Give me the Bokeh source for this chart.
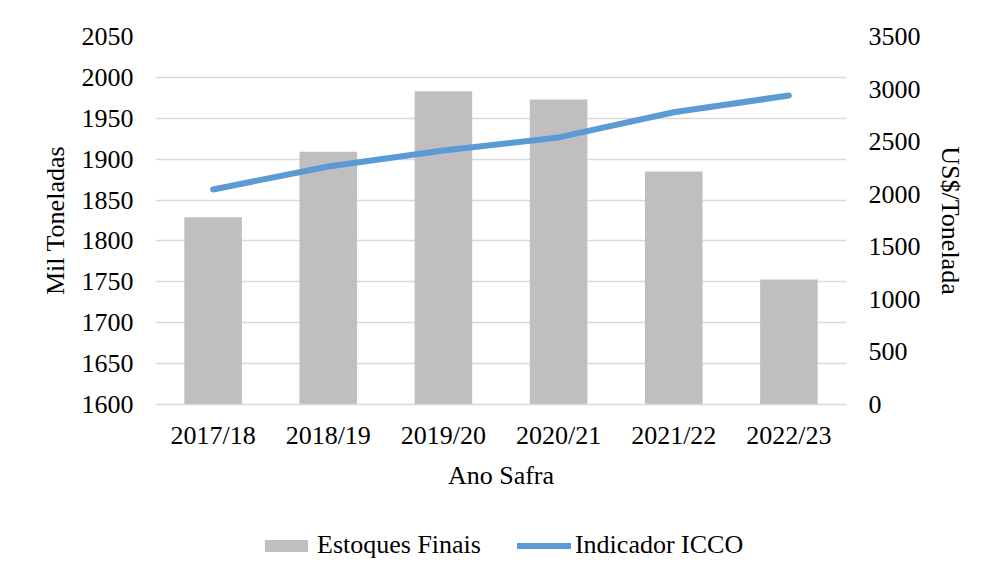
from bokeh.plotting import figure
from bokeh.models import (FactorRange, Range1d, LinearAxis, SingleIntervalTicker,
                          Legend, LegendItem, ColumnDataSource)
from bokeh.layouts import column
from bokeh.embed import file_html
from bokeh.resources import INLINE

categories = ["2017/18", "2018/19", "2019/20", "2020/21", "2021/22", "2022/23"]
estoques_finais = [1829, 1909, 1983, 1973, 1885, 1753]
indicador_icco = [2045, 2264, 2415, 2540, 2780, 2939]
series_names = ["Estoques Finais", "Indicador ICCO"]

FONT = "Liberation Serif"
FS = "26px"
BAR_COLOR = "#BFBFBF"
LINE_COLOR = "#5B9BD5"

src = ColumnDataSource(dict(cat=categories, est=estoques_finais, icco=indicador_icco))

p = figure(width=967, height=505, x_range=FactorRange(factors=categories),
           y_range=Range1d(1600, 2050), output_backend="svg", toolbar_location=None,
           min_border_left=155, min_border_right=120, min_border_top=36,
           min_border_bottom=101)
p.extra_y_ranges = {"price": Range1d(0, 3500)}
p.outline_line_color = None
p.background_fill_color = "white"
p.border_fill_color = "white"

bars = p.vbar(x="cat", top="est", bottom=1600, width=0.5, source=src,
              fill_color=BAR_COLOR, line_color=None)
line = p.line(x="cat", y="icco", source=src, y_range_name="price",
              line_color=LINE_COLOR, line_width=6, line_cap="round", line_join="round")

# left axis
la = p.yaxis[0]
la.ticker = SingleIntervalTicker(interval=50, num_minor_ticks=0)
la.axis_label = "Mil Toneladas"

ra = LinearAxis(y_range_name="price", ticker=SingleIntervalTicker(interval=500, num_minor_ticks=0),
                axis_label="US$/Tonelada")
p.add_layout(ra, "right")

for ax in [la, ra]:
    ax.axis_line_color = None
    ax.major_tick_line_color = None
    ax.minor_tick_line_color = None
    ax.major_tick_out = 0
    ax.major_tick_in = 0
    ax.major_label_standoff = 22
la.axis_label_standoff = 9
ra.axis_label_standoff = 12

xa = p.xaxis[0]
xa.axis_label = "Ano Safra"
xa.axis_line_color = "#D9D9D9"
xa.axis_line_width = 1.5
xa.major_tick_line_color = None
xa.minor_tick_line_color = None
xa.major_tick_out = 0
xa.major_tick_in = 0
xa.major_label_standoff = 16
xa.axis_label_standoff = 8

for ax in [la, ra, xa]:
    ax.major_label_text_font = FONT
    ax.major_label_text_font_size = FS
    ax.major_label_text_color = "black"
    ax.axis_label_text_font = FONT
    ax.axis_label_text_font_size = FS
    ax.axis_label_text_font_style = "normal"
    ax.axis_label_text_color = "black"

p.xgrid.grid_line_color = None
p.ygrid.grid_line_color = "#D9D9D9"
p.ygrid.grid_line_width = 1.5

# legend strip below the chart (same data; its y range keeps the marks out of view)
p2 = figure(width=967, height=58, x_range=FactorRange(factors=categories),
            y_range=Range1d(10000, 11000), output_backend="svg", toolbar_location=None,
            x_axis_type=None, y_axis_type=None,
            min_border_left=0, min_border_right=0, min_border_top=0, min_border_bottom=0)
p2.outline_line_color = None
p2.xgrid.grid_line_color = None
p2.ygrid.grid_line_color = None
lb = p2.vbar(x="cat", top="est", bottom=1600, width=0.5, source=src,
             fill_color=BAR_COLOR, line_color=None)
ll = p2.line(x="cat", y="icco", source=src, line_color=LINE_COLOR, line_width=6,
             line_cap="round")

legend = Legend(items=[LegendItem(label=series_names[0], renderers=[lb]),
                       LegendItem(label=series_names[1], renderers=[ll])],
                orientation="horizontal", location=(104, 3),
                label_text_font=FONT, label_text_font_size=FS, label_text_color="black",
                glyph_width=54, glyph_height=15, label_standoff=4, spacing=36,
                padding=0, margin=0, border_line_color=None, background_fill_alpha=0)
p2.add_layout(legend, "center")

layout = column(p, p2, spacing=0)
open("out.html", "w").write(file_html(layout, INLINE))
